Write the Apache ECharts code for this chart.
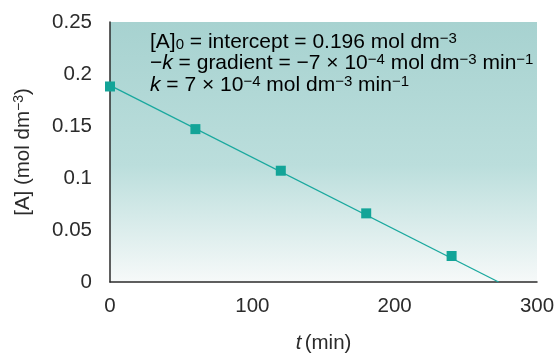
<!DOCTYPE html>
<html><head><meta charset="utf-8">
<script src="https://cdn.jsdelivr.net/npm/echarts@6/dist/echarts.min.js"></script>
<style>html,body{margin:0;padding:0;background:#fff}#c{width:556px;height:353px}</style>
</head><body><div id="c"></div>
<script>
var times = [0, 60, 120, 180, 240];
var conc = [0.188, 0.147, 0.107, 0.066, 0.025];
var fitT = [0, 273];
var fitA = [0.189, 0];
var xTicks = [0, 100, 200, 300];
var yTicks = [0, 0.05, 0.1, 0.15, 0.2, 0.25];

var font = '"Liberation Sans", Arial, sans-serif';
var chart = echarts.init(document.getElementById('c'), null, {renderer: 'canvas'});
function rich(fs, lh) {
  return {
    n: {fontSize: fs, fontFamily: font, color: '#2b2b2b', lineHeight: lh},
    i: {fontSize: fs, fontFamily: font, color: '#2b2b2b', fontStyle: 'italic', lineHeight: lh},
    sup: {fontSize: Math.round(fs * 0.7), fontFamily: font, color: '#2b2b2b', lineHeight: 12, verticalAlign: 'top'},
    sub: {fontSize: Math.round(fs * 0.7), fontFamily: font, color: '#2b2b2b', lineHeight: 12, verticalAlign: 'bottom'}
  };
}
chart.setOption({
  animation: false,
  grid: {left: 110, right: 19, top: 22, bottom: 71, show: true, borderWidth: 0,
    containLabel: false, outerBoundsMode: 'none',
    backgroundColor: {type: 'linear', x: 0, y: 0, x2: 0, y2: 1, colorStops: [
      {offset: 0, color: '#a7d2d0'}, {offset: 0.55, color: '#bbdedc'}, {offset: 1, color: '#f6f9f9'}]}},
  xAxis: {type: 'value', min: 0, max: 300, interval: 100,
    axisLine: {show: true, lineStyle: {color: '#2b2b2b', width: 1.5}}, axisTick: {show: false}, splitLine: {show: false},
    axisLabel: {fontSize: 20.5, fontFamily: font, color: '#2b2b2b', margin: 14,
      formatter: function(v){ return xTicks.indexOf(v) >= 0 ? String(v) : ''; }},
    name: '{i|t} {n|(min)}', nameLocation: 'middle', nameGap: 50,
    nameTextStyle: {rich: rich(20.5, 22)}},
  yAxis: {type: 'value', min: 0, max: 0.25, interval: 0.05,
    axisLine: {show: true, lineStyle: {color: '#2b2b2b', width: 1.5}}, axisTick: {show: false}, splitLine: {show: false},
    axisLabel: {fontSize: 20.5, fontFamily: font, color: '#2b2b2b', margin: 18,
      formatter: function(v){ var k = yTicks.indexOf(Math.round(v*100)/100); return k >= 0 ? String(yTicks[k]) : ''; }},
    name: '{n|[A] (mol dm}{sup|−3}{n|)}', nameLocation: 'middle', nameGap: 76, nameRotate: 90,
    nameTextStyle: {rich: rich(20.5, 22)}},
  series: [
    {type: 'line', data: fitT.map(function(t, k){return [t, fitA[k]];}), symbol: 'none',
     lineStyle: {color: '#1aa89e', width: 1.3}, z: 2},
    {type: 'scatter', data: times.map(function(t, k){return [t, conc[k]];}), symbol: 'rect', symbolSize: 10,
     itemStyle: {color: '#13a498', opacity: 1}, z: 3}
  ],
  graphic: [{type: 'text', left: 150, top: 31, style: {
    text: '{n|[A]}{sub|0}{n| = intercept = 0.196 mol dm}{sup|−3}\n' +
          '{n|−}{i|k}{n| = gradient = −7 × 10}{sup|−4}{n| mol dm}{sup|−3}{n| min}{sup|−1}\n' +
          '{i|k}{n| = 7 × 10}{sup|−4}{n| mol dm}{sup|−3}{n| min}{sup|−1}',
    rich: rich(21, 21.5)}}]
});
</script></body></html>
